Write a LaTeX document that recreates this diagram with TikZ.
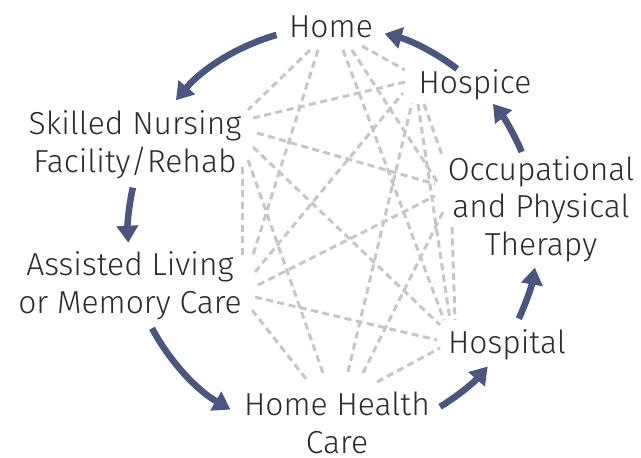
\documentclass[tikz,border=0pt]{standalone}
\usepackage{fontspec}
\setmainfont{Fira Sans Light}
\usetikzlibrary{arrows.meta}
\definecolor{flowc}{HTML}{4A5580}
\definecolor{linkc}{HTML}{C6C6C6}
\definecolor{txtc}{HTML}{2B2B2B}
\begin{document}
\begin{tikzpicture}[x=1pt,y=1pt,
  lbl/.style={anchor=base,align=center,inner sep=0pt,text=txtc,font=\fontsize{31.8}{37.5}\selectfont},
  link/.style={draw=linkc,line width=3pt,dash pattern=on 7pt off 4.5pt},
  flow/.style={draw=flowc,line width=6.5pt,-{Triangle[length=17pt,width=21pt]}}]
\useasboundingbox (0,0) rectangle (641,-458);
\fill[white] (0,0) rectangle (641,-458);
% labels (base = baseline of the last line)
\node[lbl] (home) at (331,-37) {Home};
\node[lbl] (hospice) at (475,-93) {Hospice};
\node[lbl] (opt) at (541,-255) {Occupational\\and Physical\\Therapy};
\node[lbl] (hospital) at (507,-353) {Hospital};
\node[lbl] (hhc) at (337,-453) {Home Health\\Care};
\node[lbl] (assisted) at (130,-313) {Assisted Living\\or Memory Care};
\node[lbl] (skilled) at (135,-172) {Skilled Nursing\\Facility/Rehab};
% dashed link end points
\coordinate (hm-sk) at (310,-50);  \coordinate (sk-hm) at (248,-110);
\coordinate (hm-as) at (318,-50);  \coordinate (as-hm) at (252,-258);
\coordinate (hm-hl) at (343,-50);  \coordinate (hl-hm) at (444,-320);
\coordinate (hm-ot) at (352,-50);  \coordinate (ot-hm) at (438,-183);
\coordinate (hm-hs) at (362,-46);  \coordinate (hs-hm) at (405,-70);
\coordinate (sk-hs) at (253,-118); \coordinate (hs-sk) at (405,-82);
\coordinate (sk-ot) at (257,-133); \coordinate (ot-sk) at (435,-184);
\coordinate (sk-hl) at (253,-147); \coordinate (hl-sk) at (440,-325);
\coordinate (sk-hh) at (248,-160); \coordinate (hh-sk) at (323,-373);
\coordinate (sk-as) at (242,-167); \coordinate (as-sk) at (242,-255);
\coordinate (as-hs) at (255,-272); \coordinate (hs-as) at (403,-93);
\coordinate (as-ot) at (258,-285); \coordinate (ot-as) at (435,-196);
\coordinate (as-hl) at (255,-297); \coordinate (hl-as) at (437,-340);
\coordinate (as-hh) at (252,-310); \coordinate (hh-as) at (307,-380);
\coordinate (hh-hs) at (348,-372); \coordinate (hs-hh) at (412,-103);
\coordinate (hh-ot) at (363,-373); \coordinate (ot-hh) at (443,-212);
\coordinate (hh-hl) at (377,-382); \coordinate (hl-hh) at (440,-348);
\coordinate (hs-hl) at (418,-104); \coordinate (hl-hs) at (450,-320);
\coordinate (hs-ot) at (424,-104); \coordinate (ot-hs) at (442,-155);
\coordinate (ot-hl) at (452,-227); \coordinate (hl-ot) at (455,-320);
\foreach \a/\b in {hm-sk/sk-hm,hm-as/as-hm,hm-hl/hl-hm,hm-ot/ot-hm,hm-hs/hs-hm,
  sk-hs/hs-sk,sk-ot/ot-sk,sk-hl/hl-sk,sk-hh/hh-sk,sk-as/as-sk,
  as-hs/hs-as,as-ot/ot-as,as-hl/hl-as,as-hh/hh-as,
  hh-hs/hs-hh,hh-ot/ot-hh,hh-hl/hl-hh,hs-hl/hl-hs,hs-ot/ot-hs,ot-hl/hl-ot}
  {\draw[link] (\a) -- (\b);}
% flow arrows on the circle
\coordinate (C) at (333,-232);
\coordinate (f1) at ([shift={(106:205)}]C);
\coordinate (f2) at ([shift={(167.5:205)}]C);
\coordinate (f3) at ([shift={(208:205)}]C);
\coordinate (f4) at ([shift={(301.5:205)}]C);
\coordinate (f5) at ([shift={(335:205)}]C);
\coordinate (f6) at ([shift={(23:205)}]C);
\coordinate (f7) at ([shift={(52.7:205)}]C);
\draw[flow] (f1) arc[start angle=106,end angle=140,radius=205];
\draw[flow] (f2) arc[start angle=167.5,end angle=183,radius=205];
\draw[flow] (f3) arc[start angle=208,end angle=240,radius=205];
\draw[flow] (f4) arc[start angle=301.5,end angle=319,radius=205];
\draw[flow] (f5) arc[start angle=335,end angle=350,radius=205];
\draw[flow] (f6) arc[start angle=23,end angle=38.7,radius=205];
\draw[flow] (f7) arc[start angle=52.7,end angle=75.4,radius=205];
\end{tikzpicture}
\end{document}
